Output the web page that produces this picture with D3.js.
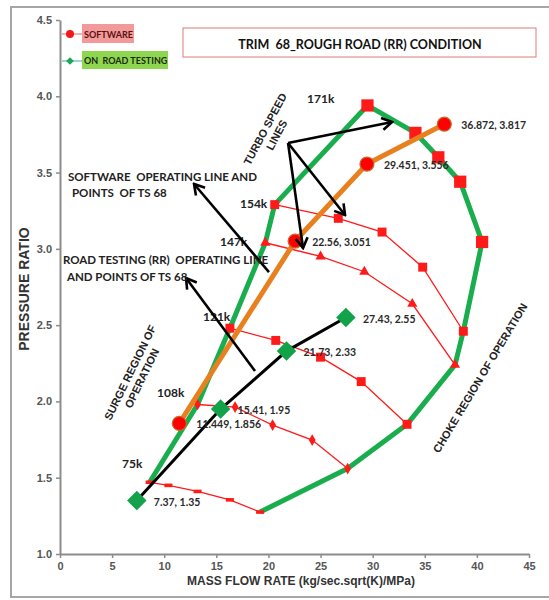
<!DOCTYPE html>
<html>
<head>
<meta charset="utf-8">
<script src="https://cdn.jsdelivr.net/npm/d3@7"></script>
<style>
  html, body { margin: 0; padding: 0; background: #fff; }
  svg { display: block; }
</style>
</head>
<body>
<svg id="chart" width="549" height="600"></svg>
<script>
// Compressor map, trim 68: turbo speed lines, map envelope and operating lines

// Speed lines: [mass flow, pressure ratio] points from surge to choke
const speedNames = ["75k", "108k", "121k", "147k", "154k", "171k"];
const speed75  = [[8.6, 1.47], [10.4, 1.45], [13.2, 1.41], [16.3, 1.355], [19.2, 1.275]];
const speed108 = [[13.2, 1.98], [16.8, 1.963], [20.4, 1.845], [24.2, 1.747], [27.6, 1.56]];
const speed121 = [[16.3, 2.48], [20.7, 2.40], [25.0, 2.29], [28.9, 2.13], [33.3, 1.85]];
const speed147 = [[19.7, 3.04], [25.0, 2.95], [29.2, 2.85], [33.8, 2.64], [37.9, 2.24]];
const speed154 = [[20.6, 3.29], [26.7, 3.20], [30.9, 3.11], [34.8, 2.88], [38.7, 2.46]];
const speed171 = [[29.5, 3.94], [34.1, 3.76], [36.3, 3.60], [38.4, 3.44], [40.5, 3.045]];

// Operating points
const softwareFlow = [11.449, 22.56, 29.451, 36.872];
const softwarePR   = [1.856, 3.051, 3.556, 3.817];
const roadFlow = [7.37, 15.41, 21.73, 27.43];
const roadPR   = [1.35, 1.95, 2.33, 2.55];

// Axis ticks
const xTicks = [0, 5, 10, 15, 20, 25, 30, 35, 40, 45];
const yTicks = [1.0, 1.5, 2.0, 2.5, 3.0, 3.5, 4.0, 4.5];

const svg = d3.select("#chart");
const x = d3.scaleLinear().domain([0, 45]).range([60, 529]);
const y = d3.scaleLinear().domain([1, 4.5]).range([554, 20]);

const LABEL_FONT = "Lato, 'Open Sans', sans-serif";
const AXIS_FONT = "'Liberation Sans', Arial, sans-serif";

// outer frame
svg.append("rect")
  .attr("x", 11).attr("y", 7).attr("width", 560).attr("height", 590)
  .attr("fill", "none").attr("stroke", "#a6a6a6").attr("stroke-width", 2);

// axes
const yAxis = svg.append("g")
  .attr("transform", `translate(${x(0)},0)`)
  .call(d3.axisLeft(y).tickValues(yTicks).tickFormat(d3.format(".1f")).tickSize(4).tickSizeOuter(0));
const xAxis = svg.append("g")
  .attr("transform", `translate(0,${y(1)})`)
  .call(d3.axisBottom(x).tickValues(xTicks).tickFormat(d3.format("d")).tickSize(4).tickSizeOuter(0));
[xAxis, yAxis].forEach(g => {
  g.select(".domain").attr("stroke", "#8c8c8c").attr("stroke-width", 2);
  g.selectAll(".tick line").attr("stroke", "#8c8c8c").attr("stroke-width", 1.5);
  g.selectAll(".tick text").attr("fill", "#555").attr("font-family", AXIS_FONT)
    .attr("font-size", 11).attr("font-weight", "bold");
});
yAxis.selectAll(".tick text").attr("x", -8);
xAxis.selectAll(".tick text").attr("y", 8);

// axis titles
svg.append("text")
  .attr("transform", `translate(29,${(y(1) + y(4.5)) / 2 + 2}) rotate(-90)`)
  .attr("text-anchor", "middle").attr("font-family", AXIS_FONT).attr("font-weight", "bold")
  .attr("font-size", 14).attr("fill", "#333").text("PRESSURE RATIO");
svg.append("text")
  .attr("x", 301).attr("y", 585)
  .attr("text-anchor", "middle").attr("font-family", AXIS_FONT).attr("font-weight", "bold")
  .attr("font-size", 12).attr("fill", "#333").text("MASS FLOW RATE (kg/sec.sqrt(K)/MPa)");

const line = d3.line().x(d => x(d[0])).y(d => y(d[1]));

// map envelope: surge points, top speed line, choke points
const speedLines = [speed75, speed108, speed121, speed147, speed154, speed171];
const envelope = []
  .concat(speedLines.slice(0, 5).map(s => s[0]))
  .concat(speed171)
  .concat(speedLines.slice(0, 5).reverse().map(s => s[s.length - 1]));

svg.append("path")
  .attr("d", line(envelope))
  .attr("fill", "none").attr("stroke", "#1aad4e").attr("stroke-width", 5)
  .attr("stroke-linejoin", "round");

// speed lines with their markers
const markerKinds = ["dash", "diamond", "square", "triangle", "square", "bigsquare"];
const symbolFor = {
  diamond: d3.symbol().type(d3.symbolDiamond).size(40),
  square: d3.symbol().type(d3.symbolSquare).size(80),
  triangle: d3.symbol().type(d3.symbolTriangle).size(45),
  bigsquare: d3.symbol().type(d3.symbolSquare).size(150)
};
speedLines.forEach((pts, i) => {
  const g = svg.append("g");
  g.append("path")
    .attr("d", line(pts))
    .attr("fill", "none").attr("stroke", "#ff1a1a").attr("stroke-width", i === 5 ? 0 : 1.3);
  const kind = markerKinds[i];
  if (kind === "dash") {
    g.selectAll("rect").data(pts).join("rect")
      .attr("x", d => x(d[0]) - 4).attr("y", d => y(d[1]) - 1.8)
      .attr("width", 8).attr("height", 3.6).attr("fill", "#ff1a1a");
  } else {
    g.selectAll("path.m").data(pts).join("path").attr("class", "m")
      .attr("transform", d => `translate(${x(d[0])},${y(d[1])})`)
      .attr("d", symbolFor[kind]).attr("fill", "#ff1a1a");
  }
});

// speed labels
const speedLabelPos = [[5.95, 1.564], [9.31, 2.03], [13.72, 2.527], [15.35, 3.019], [17.27, 3.268], [23.7, 3.956]];
svg.append("g").selectAll("text").data(speedNames).join("text")
  .attr("x", (d, i) => x(speedLabelPos[i][0])).attr("y", (d, i) => y(speedLabelPos[i][1]))
  .attr("font-family", LABEL_FONT).attr("font-weight", "bold").attr("font-size", 12)
  .attr("fill", "#222").text(d => d);

// software operating line
const software = softwareFlow.map((v, i) => [v, softwarePR[i]]);
svg.append("path").attr("d", line(software))
  .attr("fill", "none").attr("stroke", "#e8801f").attr("stroke-width", 5);
svg.append("g").selectAll("circle").data(software).join("circle")
  .attr("cx", d => x(d[0])).attr("cy", d => y(d[1])).attr("r", 7)
  .attr("fill", "#ff0000").attr("stroke", "#c96a2a").attr("stroke-width", 1.2);

// road testing operating line, diamonds drawn as squares turned 45 degrees
const road = roadFlow.map((v, i) => [v, roadPR[i]]);
svg.append("path").attr("d", line(road))
  .attr("fill", "none").attr("stroke", "#000").attr("stroke-width", 3);
svg.append("g").selectAll("path").data(road).join("path")
  .attr("transform", d => `translate(${x(d[0])},${y(d[1])}) rotate(45)`)
  .attr("d", d3.symbol().type(d3.symbolSquare).size(190))
  .attr("fill", "#12a34a");

// point value labels
svg.append("g").selectAll("text").data(software.concat(road)).join("text")
  .attr("x", d => x(d[0]) + 17).attr("y", d => y(d[1]) + 5)
  .attr("font-family", LABEL_FONT).attr("font-weight", "bold").attr("font-size", 10.5)
  .attr("fill", "#2a2a2a").text(d => `${d[0]}, ${d[1]}`);

// arrows
const defs = svg.append("defs");
defs.append("marker").attr("id", "chev")
  .attr("viewBox", "-12 -8 14 16").attr("refX", 0).attr("refY", 0)
  .attr("markerWidth", 14).attr("markerHeight", 16).attr("markerUnits", "userSpaceOnUse")
  .attr("orient", "auto")
  .append("path").attr("d", "M-10,-6 L0,0 L-10,6")
  .attr("fill", "none").attr("stroke", "#000").attr("stroke-width", 2.6);

const arrows = [
  [[21.88, 3.694], [31.86, 3.832]],
  [[21.88, 3.694], [23.32, 3.006]],
  [[21.88, 3.694], [27.35, 3.222]],
  [[20.05, 2.848], [12.86, 3.425]],
  [[18.71, 2.199], [12.09, 2.809]]
];
svg.append("g").selectAll("line").data(arrows).join("line")
  .attr("x1", d => x(d[0][0])).attr("y1", d => y(d[0][1]))
  .attr("x2", d => x(d[1][0])).attr("y2", d => y(d[1][1]))
  .attr("stroke", "#000").attr("stroke-width", 2.6)
  .attr("marker-end", "url(#chev)");

// annotation notes
function note(lines, px, py, size) {
  const t = svg.append("text")
    .attr("font-family", LABEL_FONT).attr("font-weight", "bold").attr("font-size", size)
    .attr("fill", "#222");
  lines.forEach((s, i) => t.append("tspan")
    .attr("x", x(px[i])).attr("y", y(py[i])).attr("xml:space", "preserve").text(s));
}
note(["SOFTWARE  OPERATING LINE AND", "POINTS  OF TS 68"], [0.77, 1.15], [3.445, 3.34], 11.5);
note(["ROAD TESTING (RR)  OPERATING LINE", "AND POINTS OF TS 68"], [0.29, 0.67], [2.90, 2.79], 11.5);

function rotated(lines, cx, cy, angle, size) {
  const t = svg.append("text")
    .attr("transform", `translate(${x(cx)},${y(cy)}) rotate(${angle})`)
    .attr("text-anchor", "middle").attr("font-family", AXIS_FONT).attr("font-weight", "bold")
    .attr("font-size", size).attr("fill", "#222");
  lines.forEach((s, i) => t.append("tspan").attr("x", 0).attr("y", i * 13 + 4).text(s));
}
rotated(["TURBO SPEED", "LINES"], 19.67, 3.786, -62, 11);
rotated(["SURGE REGION OF", "OPERATION"], 6.72, 2.19, -64, 11);
rotated(["CHOKE REGION OF OPERATION"], 40.30, 2.154, -59, 11);

// legend
const legend = svg.append("g");
legend.append("line").attr("x1", 62).attr("x2", 82).attr("y1", 34).attr("y2", 34)
  .attr("stroke", "#e99").attr("stroke-width", 1.5);
legend.append("circle").attr("cx", 70).attr("cy", 34).attr("r", 4).attr("fill", "#f01818");
legend.append("rect").attr("x", 82).attr("y", 24).attr("width", 52).attr("height", 19).attr("fill", "#f29a9a");
legend.append("text").attr("x", 84).attr("y", 37.5)
  .attr("font-family", LABEL_FONT).attr("font-weight", "bold").attr("font-size", 9)
  .attr("fill", "#5a1010").text("SOFTWARE");
legend.append("line").attr("x1", 62).attr("x2", 82).attr("y1", 61).attr("y2", 61)
  .attr("stroke", "#7cc9c0").attr("stroke-width", 1.5);
legend.append("path").attr("transform", "translate(70,61) rotate(45)")
  .attr("d", d3.symbol().type(d3.symbolSquare).size(30)).attr("fill", "#17a85a");
legend.append("rect").attr("x", 82).attr("y", 51).attr("width", 86).attr("height", 18).attr("fill", "#8fd650");
legend.append("text").attr("x", 84).attr("y", 64)
  .attr("font-family", LABEL_FONT).attr("font-weight", "bold").attr("font-size", 9)
  .attr("fill", "#1a2a10").attr("xml:space", "preserve").text("ON  ROAD TESTING");

// title box
svg.append("rect").attr("x", 183).attr("y", 28).attr("width", 353).attr("height", 29)
  .attr("fill", "#fff").attr("stroke", "#e07a7a").attr("stroke-width", 1);
svg.append("text").attr("x", 360).attr("y", 49).attr("text-anchor", "middle")
  .attr("font-family", LABEL_FONT).attr("font-weight", "bold").attr("font-size", 12.5)
  .attr("fill", "#111").attr("xml:space", "preserve").text("TRIM  68_ROUGH ROAD (RR) CONDITION");
</script>
</body>
</html>
